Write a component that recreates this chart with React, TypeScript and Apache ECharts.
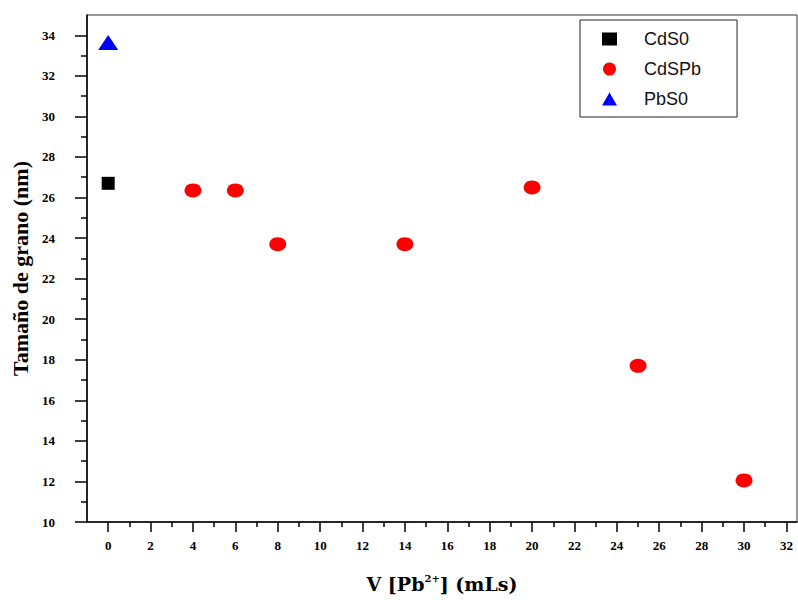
import { useEffect, useRef } from "react";
import * as echarts from "echarts";

const cds0X = [0];
const cds0Y = [26.7];
const cdspbX = [4, 6, 8, 14, 20, 25, 30];
const cdspbY = [26.35, 26.35, 23.7, 23.7, 26.5, 17.7, 12.05];
const pbs0X = [0];
const pbs0Y = [33.65];

const xMajorTicks = [0, 2, 4, 6, 8, 10, 12, 14, 16, 18, 20, 22, 24, 26, 28, 30, 32];
const xMinorTicks = [1, 3, 5, 7, 9, 11, 13, 15, 17, 19, 21, 23, 25, 27, 29, 31];
const yMajorTicks = [10, 12, 14, 16, 18, 20, 22, 24, 26, 28, 30, 32, 34];
const yMinorTicks = [11, 13, 15, 17, 19, 21, 23, 25, 27, 29, 31, 33];

const zip = (xs: number[], ys: number[]) => xs.map((x, i) => [x, ys[i]]);

export default function App() {
  const ref = useRef<HTMLDivElement>(null);
  useEffect(() => {
    if (!ref.current) return;
    const chart = echarts.init(ref.current, null, { renderer: "svg" });
    const labelFont = {
      fontFamily: "Liberation Serif",
      fontWeight: "bold" as const,
      fontSize: 13,
      color: "#000",
    };
    const tickLine = { color: "#000", width: 1.5 };
    const xBase = {
      type: "value" as const,
      min: -1,
      max: 32.5,
      position: "bottom" as const,
      offset: 0,
      splitLine: { show: false },
    };
    const yBase = {
      type: "value" as const,
      min: 10,
      max: 35,
      position: "left" as const,
      offset: 0,
      splitLine: { show: false },
    };
    const tickOnly = (values: number[], length: number) => ({
      axisLine: { show: false, onZero: false },
      axisTick: { show: true, inside: false, length, customValues: values, lineStyle: tickLine },
      axisLabel: { show: false },
    });
    chart.setOption({
      animation: false,
      backgroundColor: "#fff",
      grid: {
        left: 87,
        right: 1,
        top: 15,
        bottom: 78,
        show: true,
        borderColor: "#333",
        borderWidth: 1,
        containLabel: false,
        outerBoundsMode: "none",
      },
      legend: {
        orient: "vertical",
        left: 580,
        top: 20,
        padding: [10, 36, 9, 22],
        itemWidth: 15,
        itemHeight: 13,
        itemGap: 12,
        borderColor: "#222",
        borderWidth: 1,
        backgroundColor: "#fff",
        textStyle: {
          fontFamily: "Liberation Sans",
          fontSize: 18,
          color: "#111",
          padding: [0, 0, 0, 22],
          lineHeight: 17,
        },
        data: ["CdS0", "CdSPb", "PbS0"],
      },
      xAxis: [
        {
          ...xBase,
          name: "V [Pb{sup|2+}] (mLs)",
          nameLocation: "middle",
          nameGap: 51,
          nameMoveOverlap: false,
          nameTextStyle: {
            fontFamily: "DejaVu Serif",
            fontWeight: "bold",
            fontSize: 19,
            color: "#000",
            rich: {
              sup: {
                fontFamily: "DejaVu Serif",
                fontWeight: "bold",
                fontSize: 10,
                verticalAlign: "bottom",
                padding: [0, 0, 11, 0],
                color: "#000",
              },
            },
          },
          axisLine: { show: true, onZero: false, lineStyle: tickLine },
          axisTick: { show: false },
          axisLabel: { show: true, margin: 17, customValues: xMajorTicks, ...labelFont },
        },
        { ...xBase, ...tickOnly(xMajorTicks, 10) },
        { ...xBase, ...tickOnly(xMinorTicks, 5) },
      ],
      yAxis: [
        {
          ...yBase,
          name: "Tamaño de grano (nm)",
          nameLocation: "middle",
          nameGap: 56,
          nameMoveOverlap: false,
          nameTextStyle: {
            fontFamily: "Liberation Serif",
            fontWeight: "bold",
            fontSize: 22,
            color: "#000",
          },
          axisLine: { show: true, onZero: false, lineStyle: tickLine },
          axisTick: { show: false },
          axisLabel: { show: true, margin: 32, customValues: yMajorTicks, ...labelFont },
        },
        { ...yBase, ...tickOnly(yMajorTicks, 12) },
        { ...yBase, ...tickOnly(yMinorTicks, 6) },
      ],
      series: [
        {
          name: "CdS0",
          type: "scatter",
          symbol: "rect",
          symbolSize: 13,
          itemStyle: { color: "#000", opacity: 1 },
          data: zip(cds0X, cds0Y),
        },
        {
          name: "CdSPb",
          type: "scatter",
          symbol: "circle",
          symbolSize: [17, 14],
          itemStyle: { color: "#ff0000", opacity: 1 },
          data: zip(cdspbX, cdspbY),
        },
        {
          name: "PbS0",
          type: "scatter",
          symbol: "triangle",
          symbolSize: [20, 15],
          itemStyle: { color: "#0000ff", opacity: 1 },
          data: zip(pbs0X, pbs0Y),
        },
      ],
    });
    return () => chart.dispose();
  }, []);
  return (
    <div
      ref={ref}
      style={{ position: "fixed", left: 0, top: 0, width: 798, height: 600 }}
    />
  );
}
